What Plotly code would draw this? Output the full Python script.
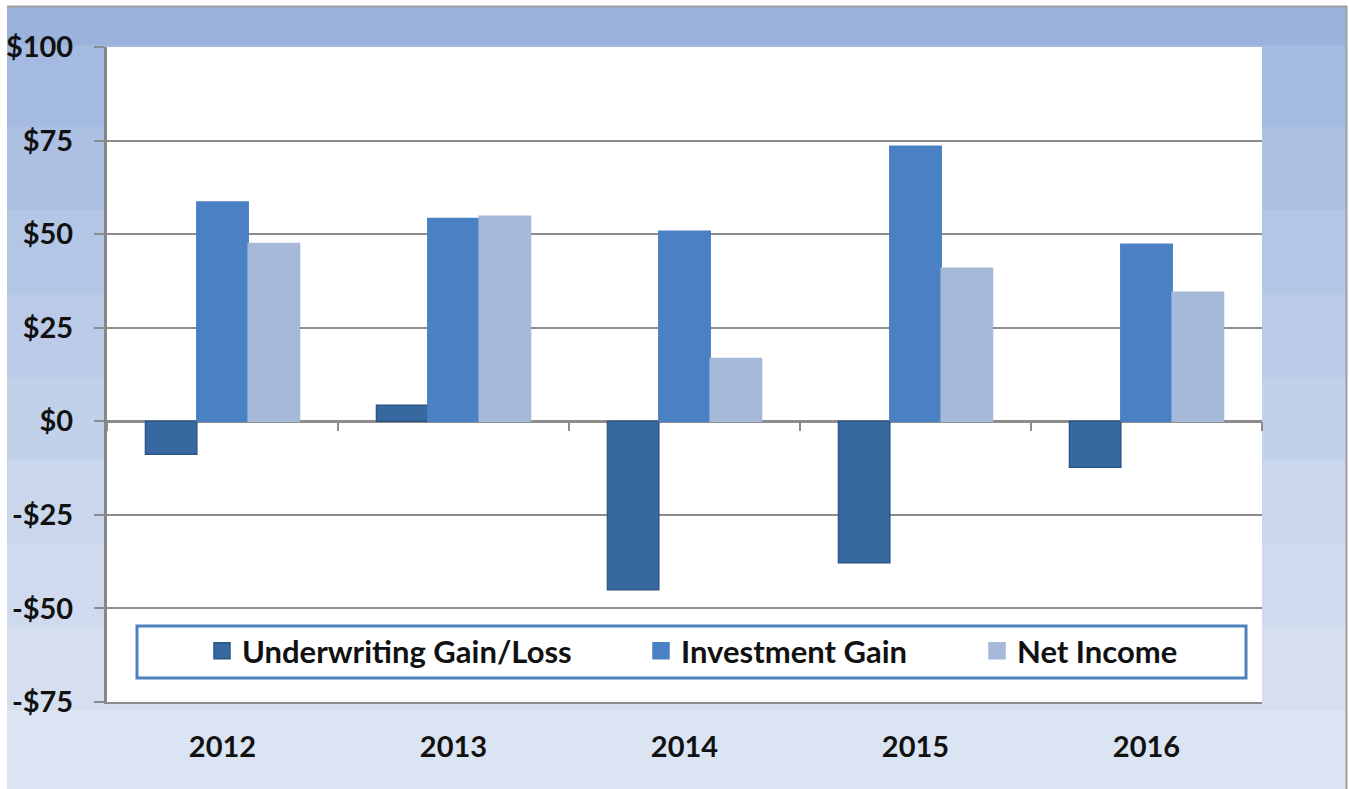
import plotly.graph_objects as go

# ---- data ----
years = ["2012", "2013", "2014", "2015", "2016"]
underwriting = [-8.8, 4.3, -45.0, -37.8, -12.3]
investment = [58.6, 54.2, 50.8, 73.5, 47.3]
net_income = [47.5, 54.8, 16.8, 40.9, 34.5]
series_names = ["Underwriting Gain/Loss", "Investment Gain", "Net Income"]
y_tickvals = [-75, -50, -25, 0, 25, 50, 75, 100]
y_ticktext = ["-$75", "-$50", "-$25", "$0", "$25", "$50", "$75", "$100"]

# ---- styling ----
W, H = 1349, 789
L, R, T, B = 107, 87, 47, 87
PW, PH = W - L - R, H - T - B
FONT = "Lato"
colors = ["#3868A0", "#4A80C4", "#A7B9D8"]
edge = ["#2A5788", "#4A80C4", "#A7B9D8"]
GRID = "#8C8C8C"

def px_x(x):
    return (x - L) / PW

def px_y(y):
    return (H - B - y) / PH

fig = go.Figure()
for name, vals, c, e in zip(series_names, [underwriting, investment, net_income], colors, edge):
    fig.add_trace(go.Bar(x=years, y=vals, name=name, marker=dict(color=c, line=dict(color=e, width=1.5)),
                         showlegend=False))

# legend-only markers (larger squares than bar legend glyphs)
legend_ids = ["legend", "legend2", "legend3"]
for name, c, e, lid in zip(series_names, colors, edge, legend_ids):
    fig.add_trace(go.Scatter(x=[None], y=[None], mode="markers", name=name, legend=lid,
                             marker=dict(symbol="square", size=16, color=c, line=dict(color=e, width=1.5))))

# dummy trace for boundary ticks on the zero line
fig.add_trace(go.Scatter(x=years, y=[None] * len(years), xaxis="x2", showlegend=False, hoverinfo="skip"))

# background gradient bands
band_edges = [7, 45, 127, 210, 293, 377, 460, 543, 627, 710, 789]
band_colors = ["#9AB2DC", "#A4BAE0", "#ACC0E3", "#B4C6E5", "#BBCBE7", "#C2D1EA", "#C9D6EC",
               "#CFDAEE", "#D5DFF0", "#DBE4F2"]
shapes = []
for i, col in enumerate(band_colors):
    shapes.append(dict(type="rect", xref="paper", yref="paper", layer="below",
                       x0=px_x(7), x1=px_x(1346), y0=px_y(band_edges[i + 1]), y1=px_y(band_edges[i]),
                       fillcolor=col, line=dict(width=0)))
# white plot area
shapes.append(dict(type="rect", xref="paper", yref="paper", layer="below", x0=0, x1=1, y0=0, y1=1,
                   fillcolor="white", line=dict(width=0)))
# outer grey border (top and right)
shapes.append(dict(type="line", xref="paper", yref="paper", x0=px_x(7), x1=px_x(1347), y0=px_y(6.5), y1=px_y(6.5),
                   line=dict(color="#A0A0A0", width=2), layer="below"))
shapes.append(dict(type="line", xref="paper", yref="paper", x0=px_x(1346.5), x1=px_x(1346.5), y0=px_y(6), y1=px_y(789),
                   line=dict(color="#A0A0A0", width=2), layer="below"))
# legend box
shapes.append(dict(type="rect", xref="paper", yref="paper", layer="above",
                   x0=px_x(137), x1=px_x(1246), y0=px_y(678), y1=px_y(626),
                   fillcolor="white", line=dict(color="#4F81BD", width=3)))

legend_font = dict(family=FONT, size=31, color="#111111", weight="bold")
leg_common = dict(orientation="h", bgcolor="rgba(0,0,0,0)", borderwidth=0, font=legend_font,
                  xanchor="left", yanchor="middle", y=px_y(651))
legend_left = [202, 641, 977]

fig.update_layout(
    width=W, height=H,
    margin=dict(l=L, r=R, t=T, b=B),
    paper_bgcolor="white",
    plot_bgcolor="white",
    barmode="group", bargap=0.333, bargroupgap=0,
    shapes=shapes,
    legend=dict(**leg_common, x=px_x(legend_left[0])),
    legend2=dict(**leg_common, x=px_x(legend_left[1])),
    legend3=dict(**leg_common, x=px_x(legend_left[2])),
    xaxis=dict(type="category", range=[-0.5, 4.5], showline=True, linecolor=GRID, linewidth=2,
               ticks="", showgrid=False, tickfont=dict(family=FONT, size=29, color="#111111", weight="bold"),
               ticklabelstandoff=18, automargin=False),
    xaxis2=dict(type="category", overlaying="x", anchor="free", position=75 / 175, side="bottom",
                range=[-0.5, 4.5], ticks="outside", tickson="boundaries", ticklen=9, tickwidth=2,
                tickcolor=GRID, showticklabels=False, showgrid=False, showline=False, automargin=False),
    yaxis=dict(range=[-75, 100], tickvals=y_tickvals, ticktext=y_ticktext, showgrid=True,
               gridcolor=GRID, gridwidth=2, showline=True, linecolor="#868686", linewidth=3,
               ticks="outside", ticklen=10, tickwidth=2, tickcolor=GRID,
               zeroline=True, zerolinecolor=GRID, zerolinewidth=2.5,
               tickfont=dict(family=FONT, size=29, color="#111111", weight="bold"),
               ticklabelstandoff=15, automargin=False),
)

fig.write_html("out.html")
